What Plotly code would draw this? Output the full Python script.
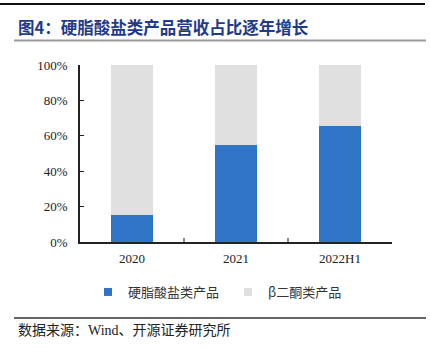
import plotly.graph_objects as go

categories = ["2020", "2021", "2022H1"]
stearate = [15, 55, 65.5]
diketone = [85, 45, 34.5]
series_names = ["硬脂酸盐类产品", "β二酮类产品"]
series_colors = ["#3074C5", "#E0E0E0"]
y_ticks = [0, 20, 40, 60, 80, 100]
y_tick_labels = ["0%", "20%", "40%", "60%", "80%", "100%"]

W, H = 430, 351
L, R, T, B = 80, 392, 65, 242

def px(x):
    return (x - L) / (R - L)

def py(y):
    return (B - y) / (B - T)

fig = go.Figure()
for vals, name, col in zip([stearate, diketone], series_names, series_colors):
    fig.add_trace(go.Bar(x=categories, y=vals, name=name, legendgroup=name, showlegend=False,
                         marker=dict(color=col, line=dict(width=0)), width=0.4))
    fig.add_trace(go.Scatter(x=[None], y=[None], mode="markers", name=name, legendgroup=name,
                             marker=dict(symbol="square", size=8, color=col)))

serif = "Liberation Serif, serif"
fig.update_layout(
    width=W, height=H, barmode="stack",
    margin=dict(l=L, r=W - R, t=T, b=H - B),
    paper_bgcolor="white", plot_bgcolor="white",
    font=dict(family=serif, size=13, color="#222"),
    showlegend=True,
    legend=dict(orientation="h", x=px(88), xanchor="left", y=py(292), yanchor="middle",
                font=dict(family="Noto Sans CJK SC", size=13, color="#333"),
                itemwidth=30, traceorder="normal", entrywidth=95, bgcolor="rgba(0,0,0,0)"),
    xaxis=dict(showline=True, linecolor="#222", linewidth=1.5, ticks="inside",
               tickson="boundaries", ticklen=4, tickcolor="#888", tickwidth=1.5,
               tickfont=dict(family=serif, size=13, color="#222"), showgrid=False,
               range=[-0.5, 2.5], ticklabelstandoff=4),
    yaxis=dict(range=[0, 100], tickvals=y_ticks, ticktext=y_tick_labels,
               showline=True, linecolor="#222", linewidth=1.5, ticks="inside",
               ticklen=4, tickcolor="#222", showgrid=False, zeroline=False,
               tickfont=dict(family=serif, size=13, color="#222"), ticklabelstandoff=8),
)

shapes = [
    dict(type="line", xref="paper", yref="paper", x0=px(0), x1=px(425), y0=py(4), y1=py(4),
         line=dict(color="#111", width=2)),
    dict(type="line", xref="paper", yref="paper", x0=px(14), x1=px(426), y0=py(40.5), y1=py(40.5),
         line=dict(color="#999", width=2)),
    dict(type="line", xref="paper", yref="paper", x0=px(14), x1=px(426), y0=py(318), y1=py(318),
         line=dict(color="#333", width=1.5)),
]
fig.update_layout(shapes=shapes)

fig.add_annotation(xref="paper", yref="paper", x=px(16), y=py(27), xanchor="left", yanchor="middle",
                   text="<b>图4：硬脂酸盐类产品营收占比逐年增长</b>", showarrow=False,
                   font=dict(family="Noto Sans CJK SC", size=16.5, color="#1F3A8A"))
fig.add_annotation(xref="paper", yref="paper", x=px(16), y=py(330), xanchor="left", yanchor="middle",
                   text="数据来源：Wind、开源证券研究所", showarrow=False,
                   font=dict(family="Liberation Serif, Noto Sans CJK SC", size=14, color="#222"))
fig.add_annotation(xref="paper", yref="paper", x=px(412), y=py(4), xanchor="right", yanchor="bottom",
                   text="公司首次覆盖报告", showarrow=False,
                   font=dict(family="Noto Sans CJK SC", size=16, color="#222"))

fig.write_html("out.html")
